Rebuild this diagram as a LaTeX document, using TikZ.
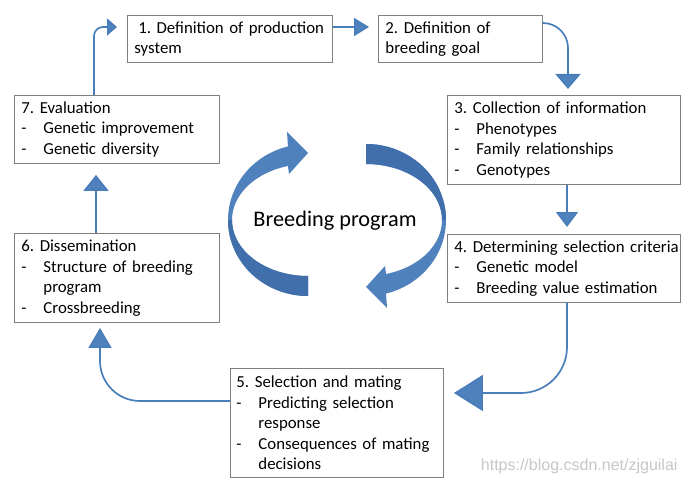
\documentclass[tikz,border=0pt]{standalone}
\usepackage{fontspec}
\setmainfont{Carlito}
\newfontfamily\wmfont{Liberation Sans}
\usetikzlibrary{arrows.meta,calc}
\definecolor{lineblue}{HTML}{4A7EBB}
\definecolor{headblue}{HTML}{4F81BD}
\definecolor{lightblue}{HTML}{4F81BD}
\definecolor{darkblue}{HTML}{416FAC}
\definecolor{boxedge}{HTML}{7F7F7F}
\newcommand{\itm}{\makebox[22pt][l]{-}}
\newcommand{\ind}{\hspace*{22pt}}
\begin{document}
\frenchspacing
\begin{tikzpicture}[x=1pt,y=-1pt,
  box/.style={draw=boxedge, line width=0.9pt, anchor=north west, align=left,
    inner xsep=7pt, inner ysep=2pt, font=\fontsize{16.8}{20.6}\selectfont\frenchspacing, fill=white},
  conn/.style={draw=lineblue, line width=1.7pt},
]
\fill[white] (0,0) rectangle (688,484);
\useasboundingbox (0,0) rectangle (688,484);

% central circular arrows
\fill[lightblue] plot[domain=90:255.5,samples=60] ({308+80*cos(\x)},{220+76*sin(\x)})
  -- (287,132) -- (308,153) -- (289,174)
  -- plot[domain=254.7:90,samples=60] ({308+76*cos(\x)},{220+56*sin(\x)}) -- cycle;
\fill[darkblue] plot[domain=90:180,samples=40] ({308+80*cos(\x)},{220+76*sin(\x)})
  -- plot[domain=180:90,samples=40] ({308+76*cos(\x)},{220+56*sin(\x)}) -- cycle;
\begin{scope}[rotate around={180:(337,220)}]
\fill[lightblue] plot[domain=90:255.5,samples=60] ({308+80*cos(\x)},{220+76*sin(\x)})
  -- (287,132) -- (308,153) -- (289,174)
  -- plot[domain=254.7:90,samples=60] ({308+76*cos(\x)},{220+56*sin(\x)}) -- cycle;
\fill[darkblue] plot[domain=90:180,samples=40] ({308+80*cos(\x)},{220+76*sin(\x)})
  -- plot[domain=180:90,samples=40] ({308+76*cos(\x)},{220+56*sin(\x)}) -- cycle;
\end{scope}
\node[font=\fontsize{22.3}{26}\selectfont] (bp) at (335,221) {Breeding program};

% boxes
\node[box, text width=191pt, minimum height=47pt] (b1) at (127,15)
  {\mbox{\hspace*{3.8pt}1. Definition of production}\\system};
\node[box, text width=150pt, minimum height=47pt] (b2) at (378,15)
  {2. Definition of\\breeding goal};
\node[box, text width=219pt, minimum height=89pt] (b3) at (447,95)
  {\mbox{3. Collection of information}\\\itm Phenotypes\\\itm Family relationships\\\itm Genotypes};
\node[box, text width=219pt, minimum height=68pt] (b4) at (447,234)
  {\mbox{4. Determining selection criteria}\\\itm Genetic model\\\itm Breeding value estimation};
\node[box, text width=201pt, inner xsep=6pt, minimum height=109pt] (b5) at (230,368)
  {5. Selection and mating\\\itm Predicting selection\\\ind response\\\itm \mbox{Consequences of mating}\\\ind decisions};
\node[box, text width=191pt, minimum height=89pt] (b6) at (14,233)
  {6. Dissemination\\\itm \mbox{Structure of breeding}\\\ind program\\\itm Crossbreeding};
\node[box, text width=191pt, minimum height=68pt] (b7) at (14,95)
  {7. Evaluation\\\itm Genetic improvement\\\itm Genetic diversity};

% connectors
\draw[conn, rounded corners=9pt, -{Triangle[width=17pt,length=10pt,fill=headblue]}, shorten >=10pt]
  ($(b7.north west)+(80,0)$) |- ($(b1.north west)+(0,12)$);
\draw[conn, -{Triangle[width=18pt,length=15pt,fill=headblue]}, shorten >=9pt]
  ($(b1.north east)+(0,12)$) -- ($(b2.north west)+(0,12)$);
\draw[conn, rounded corners=25pt, -{Triangle[width=25pt,length=15pt,fill=headblue]}, shorten >=6pt]
  ($(b2.north east)+(0,8)$) -| ($(b3.north west)+(121,0)$);
\draw[conn, -{Triangle[width=22pt,length=15pt,fill=headblue]}, shorten >=7pt]
  ($(b3.south west)+(120,0)$) -- ($(b4.north west)+(120,0)$);
\draw[conn, rounded corners=46pt, -{Triangle[width=36pt,length=29pt,fill=headblue]}, shorten >=10pt]
  ($(b4.south west)+(120,0)$) |- ($(b5.north east)+(0,25)$);
\draw[conn, rounded corners=40pt, -{Triangle[width=23pt,length=20pt,fill=headblue]}, shorten >=5pt]
  ($(b5.north west)+(0,33)$) -| ($(b6.south west)+(86,0)$);
\draw[conn, -{Triangle[width=25pt,length=16pt,fill=headblue]}, shorten >=11pt]
  ($(b6.north west)+(82,0)$) -- ($(b7.south west)+(82,0)$);

% watermark
\node[font=\wmfont\fontsize{16}{16}\selectfont, text=black!22, anchor=east] (wm) at (681,466)
  {https://blog.csdn.net/zjguilai};
\end{tikzpicture}
\end{document}
